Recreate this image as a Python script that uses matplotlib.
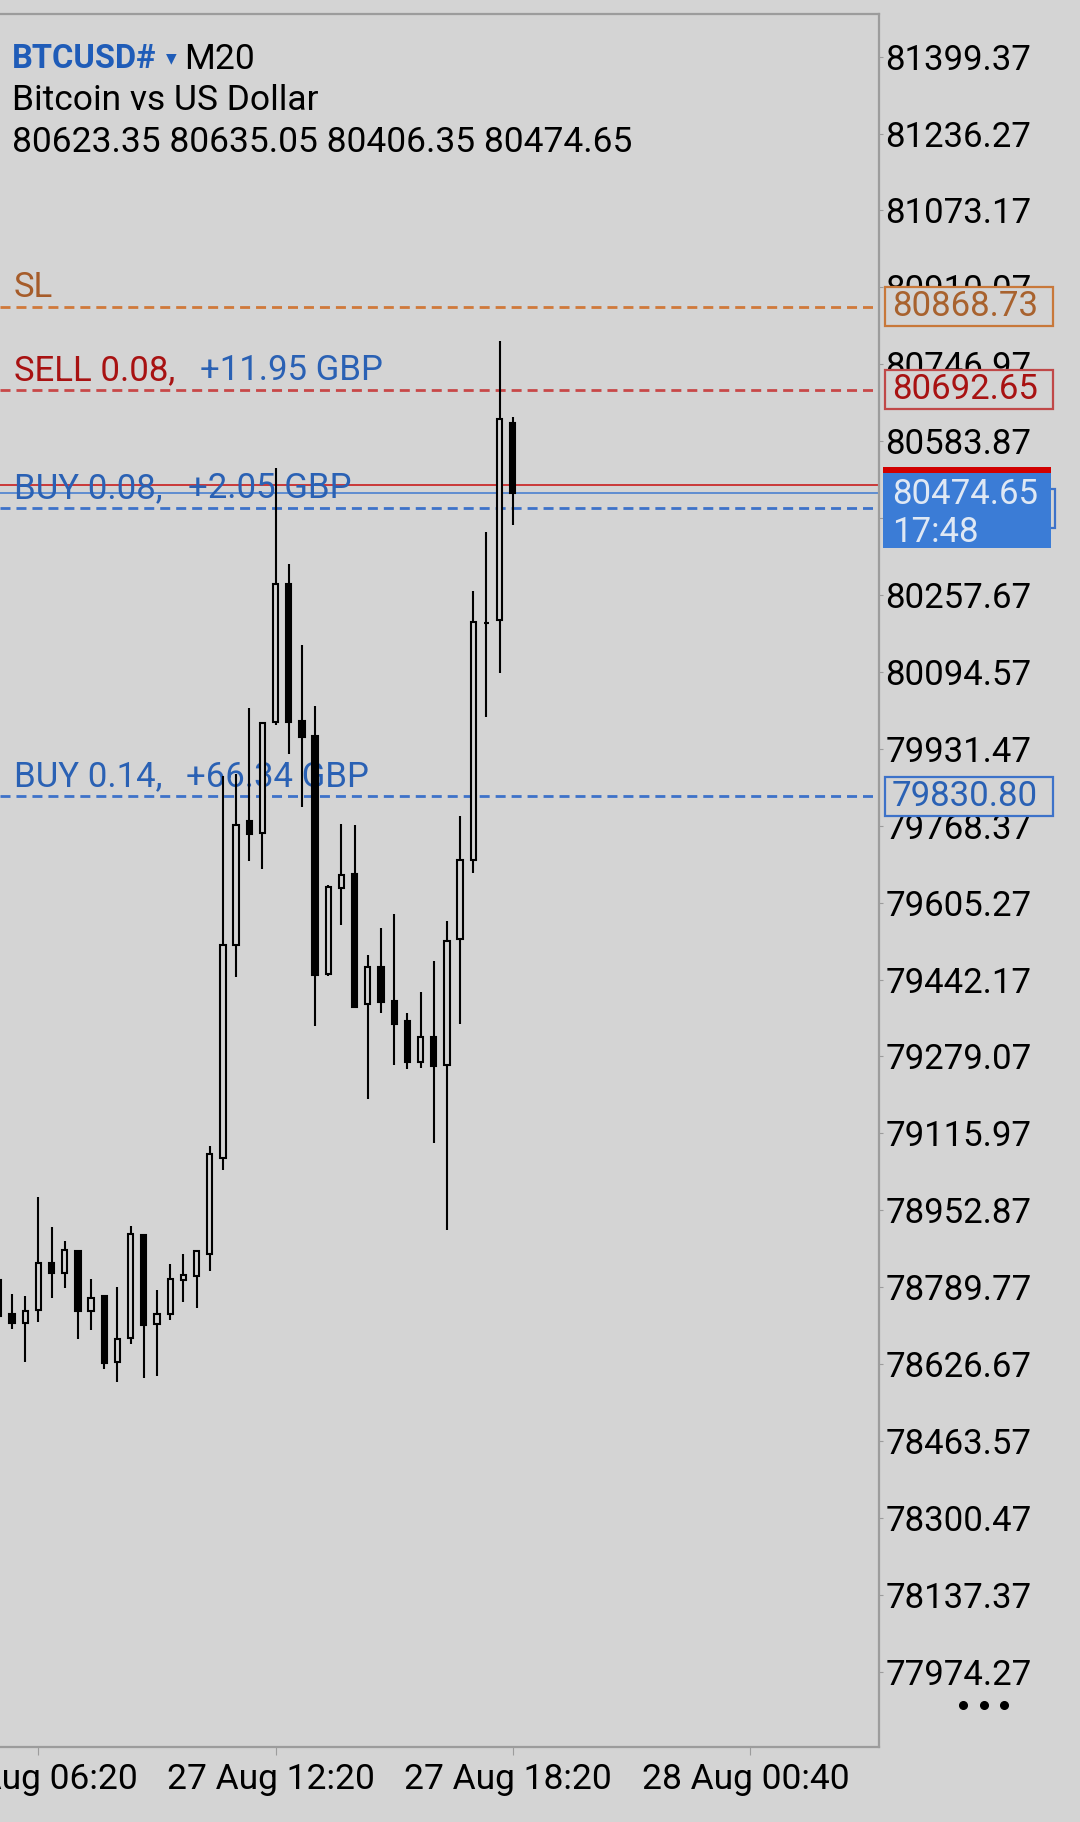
import matplotlib.pyplot as plt
import matplotlib.transforms as mtransforms
from matplotlib.patches import Rectangle
from matplotlib.lines import Line2D

W, H = 1080, 1822
BG = "#d4d4d4"
FRAME = "#9c9c9c"
BLUE_TXT = "#2a61b4"
BLUE_LINE = "#3d72c9"

# M20 bars, oldest first (bar 0 is cut by the left edge)
opens = [78728.65, 78732.89, 78713.80, 78741.37, 78841.05, 78819.92, 78866.50, 78739.25,
         78771.06, 78631.09, 78681.99, 78900.43, 78711.68, 78732.89, 78805.00, 78814.54,
         78860.14, 79063.73, 79515.46, 79778.44, 79753.00, 79988.40, 80281.07, 79990.52,
         79958.71, 79453.96, 79636.35, 79666.04, 79390.34, 79468.81, 79396.70, 79354.28,
         79267.33, 79320.35, 79260.97, 79528.19, 79695.73, 80198.36, 80204.72, 80623.35]
highs = [78821.96, 78775.30, 78771.06, 78981.02, 78918.08, 78887.71, 78866.50, 78807.12,
         78771.06, 78790.15, 78919.52, 78900.43, 78783.79, 78838.93, 78860.14, 78868.62,
         79089.19, 79873.88, 79878.12, 80018.09, 79986.28, 80527.09, 80323.49, 80151.70,
         80022.34, 79642.71, 79772.08, 79769.96, 79494.26, 79551.52, 79581.21, 79371.25,
         79415.79, 79481.53, 79566.36, 79789.05, 80266.23, 80391.35, 80796.43, 80635.05]
lows = [78696.84, 78701.08, 78631.09, 78715.92, 78766.82, 78788.03, 78679.87, 78698.96,
        78616.24, 78588.67, 78669.26, 78597.16, 78601.40, 78720.16, 78758.33, 78745.61,
        78824.08, 79038.28, 79447.60, 79693.61, 79676.64, 79982.04, 79920.54, 79808.13,
        79343.68, 79449.72, 79557.88, 79381.85, 79188.86, 79371.25, 79260.97, 79252.48,
        79254.60, 79095.54, 78911.03, 79347.92, 79668.16, 79998.63, 80092.32, 80406.35]
closes = [78805.00, 78713.80, 78739.25, 78841.05, 78818.80, 78868.62, 78739.25, 78766.82,
          78628.97, 78679.87, 78902.55, 78709.56, 78732.89, 78807.12, 78815.60, 78866.50,
          79072.22, 79515.46, 79769.96, 79750.87, 79986.28, 80281.07, 79988.40, 79956.59,
          79451.84, 79638.47, 79663.92, 79383.97, 79468.81, 79394.58, 79347.92, 79267.33,
          79320.35, 79258.85, 79523.95, 79695.73, 80200.48, 80199.20, 80630.00, 80474.65]

price_ticks = [81399.37, 81236.27, 81073.17, 80910.07, 80746.97, 80583.87, 80420.77,
               80257.67, 80094.57, 79931.47, 79768.37, 79605.27, 79442.17, 79279.07,
               79115.97, 78952.87, 78789.77, 78626.67, 78463.57, 78300.47, 78137.37,
               77974.27]
time_ticks = [3, 21, 39, 57]
time_labels = ["27 Aug 06:20", "27 Aug 12:20", "27 Aug 18:20", "28 Aug 00:40"]

sl_price = 80868.73
sell_price = 80692.65
buy1_price = 80442.00
buy2_price = 79830.80
bid = 80474.65
ask = 80491.50

plt.rcParams["font.family"] = ["Roboto", "DejaVu Sans"]
plt.rcParams["lines.scale_dashes"] = False

fig = plt.figure(figsize=(W / 100, H / 100), dpi=100, facecolor=BG)
ax = fig.add_axes([0, 1 - 1747 / H, 879 / W, (1747 - 14) / H], facecolor=BG)
ax.set_xlim(0.091, 66.78)
ax.set_ylim(77814.6, 81489.9)

# candles
xs = list(range(len(opens)))
ax.vlines(xs, lows, highs, color="black", lw=1.5, zorder=2)
for x, o, c in zip(xs, opens, closes):
    up = c >= o
    ax.bar(x, max(abs(c - o), 0.5), bottom=min(o, c), width=0.4,
           facecolor=BG if up else "black", edgecolor="black", lw=1.5, zorder=3)

# order / price lines
dash = (7.2, 4.3)
ax.axhline(sl_price, color="#d0793a", lw=2.0, dashes=dash, zorder=1)
ax.axhline(sell_price, color="#c84848", lw=2.0, dashes=dash, zorder=1)
ax.axhline(buy1_price, color=BLUE_LINE, lw=2.0, dashes=dash, zorder=1)
ax.axhline(buy2_price, color=BLUE_LINE, lw=2.0, dashes=dash, zorder=1)
ax.axhline(ask, color="#c81e1e", lw=1.2, zorder=1)
ax.axhline(bid, color="#4a80d0", lw=1.2, zorder=1)


def line_label(price, parts):
    for px, txt, col in parts:
        ax.annotate(txt, xy=(px / 879, price), xycoords=("axes fraction", "data"),
                    xytext=(0, 13.8), textcoords="offset points", va="center",
                    ha="left", fontsize=25, color=col, zorder=1)


line_label(sl_price, [(14, "SL", "#a65c2a")])
line_label(sell_price, [(14, "SELL 0.08,", "#a81212"), (200, "+11.95 GBP", BLUE_TXT)])
line_label(buy1_price, [(14, "BUY 0.08,", BLUE_TXT), (188, "+2.05 GBP", BLUE_TXT)])
line_label(buy2_price, [(14, "BUY 0.14,", BLUE_TXT), (186, "+66.34 GBP", BLUE_TXT)])

# axes frame and ticks
for side in ["top", "right", "bottom"]:
    ax.spines[side].set_color(FRAME)
    ax.spines[side].set_linewidth(1.6)
ax.spines["left"].set_visible(False)
ax.yaxis.tick_right()
ax.set_yticks(price_ticks, [f"{p:.2f}" for p in price_ticks])
ax.tick_params(axis="y", length=3, color=FRAME, labelsize=25, pad=1.5)
ax.set_xticks(time_ticks, time_labels)
ax.tick_params(axis="x", length=5.8, color=FRAME, labelsize=25.5, pad=5.5)
shift = mtransforms.ScaledTranslation(-4.5 / 100, 0, fig.dpi_scale_trans)
for lab in ax.get_xticklabels():
    lab.set_transform(lab.get_transform() + shift)


def fy(price):
    return ax.transData.transform((0, price))[1] / H


def price_box(price, text, edge, col, right=1053):
    yc = fy(price)
    hh = 39 / H
    fig.add_artist(Rectangle((885 / W, yc - hh / 2), (right - 885) / W, hh,
                             transform=fig.transFigure, facecolor=BG,
                             edgecolor=edge, lw=1.6, zorder=5))
    if text:
        fig.text(892 / W, yc, text, color=col, fontsize=25, va="center",
                 ha="left", zorder=6)


price_box(sl_price, "80868.73", "#c8783a", "#a8622e")
price_box(sell_price, "80692.65", "#c04848", "#a81212")
price_box(buy2_price, "79830.80", BLUE_LINE, BLUE_TXT)
price_box(buy1_price, "", BLUE_LINE, BLUE_TXT, right=1055)

# current bid box with ask marker on top
yb = fy(bid)
top = yb + 20 / H
fig.add_artist(Rectangle((883 / W, top - 75 / H), (1051 - 883) / W, 75 / H,
                         transform=fig.transFigure, facecolor="#3b7cd6",
                         edgecolor="none", zorder=7))
fig.add_artist(Rectangle((883 / W, top), (1051 - 883) / W, 6 / H,
                         transform=fig.transFigure, facecolor="#d10000",
                         edgecolor="none", zorder=7))
fig.text(892 / W, yb - 2 / H, "80474.65", color="#dfe8f4", fontsize=25, va="center", zorder=8)
fig.text(892 / W, yb - 40 / H, "17:48", color="#dfe8f4", fontsize=25, va="center", zorder=8)

# header
fig.text(11.6 / W, 1 - 59.5 / H, "BTCUSD#", color="#1f5cb8", fontsize=23.5,
         fontweight="bold", va="center")
fig.text(171 / W, 1 - 58 / H, "\u25bc", color="#1f5cb8", fontsize=10,
         family="DejaVu Sans", va="center", ha="center")
fig.text(184 / W, 1 - 59.5 / H, "M20", color="black", fontsize=25.5, va="center")
fig.text(11.6 / W, 1 - 101 / H, "Bitcoin vs US Dollar", color="black",
         fontsize=25.5, va="center")
fig.text(11.6 / W, 1 - 143 / H,
         f"{opens[-1]:.2f} {highs[-1]:.2f} {lows[-1]:.2f} {closes[-1]:.2f}",
         color="black", fontsize=25.5, va="center")

# menu dots
fig.add_artist(Line2D([963 / W, 983.5 / W, 1004 / W], [1 - 1705 / H] * 3,
                      transform=fig.transFigure, ls="none", marker="o",
                      ms=5.5, color="black"))

fig.savefig("out.png", dpi=100, facecolor=BG)
